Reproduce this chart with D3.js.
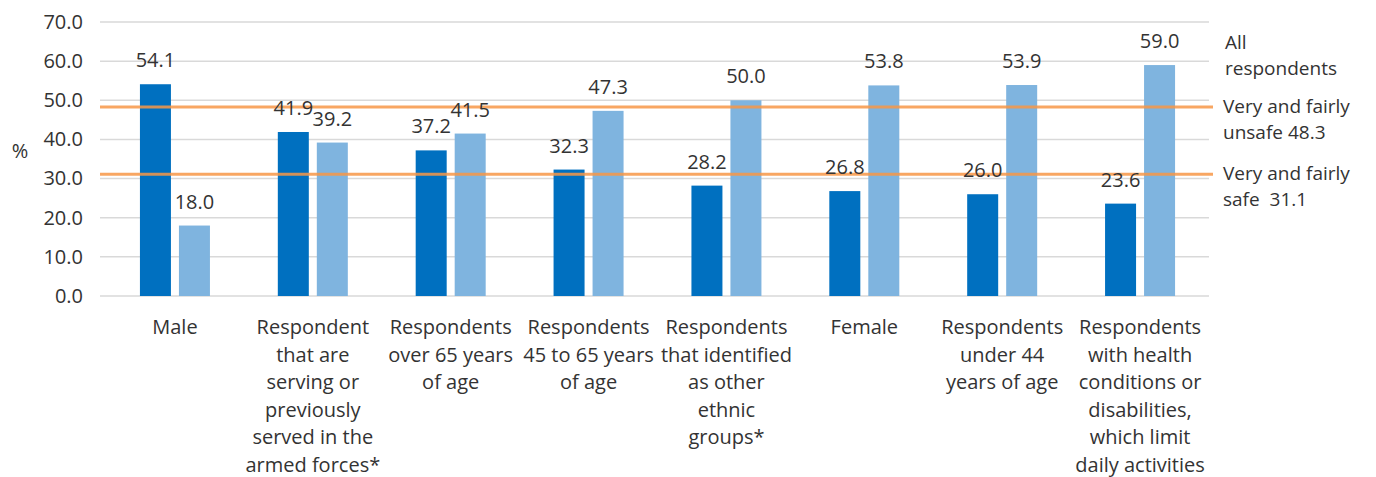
<!DOCTYPE html>
<html><head><meta charset="utf-8">
<script src="https://cdn.jsdelivr.net/npm/d3@7"></script>
<style>body{margin:0;background:#fff}svg text{font-family:"Open Sans",sans-serif;fill:#333}</style>
</head><body><svg id="c" width="1376" height="477"></svg>
<script>
const categories = [
  ["Male"],
  ["Respondent","that are","serving or","previously","served in the","armed forces*"],
  ["Respondents","over 65 years","of age"],
  ["Respondents","45 to 65 years","of age"],
  ["Respondents","that identified","as other","ethnic","groups*"],
  ["Female"],
  ["Respondents","under 44","years of age"],
  ["Respondents","with health","conditions or","disabilities,","which limit","daily activities"]
];
const safeValues = [54.1, 41.9, 37.2, 32.3, 28.2, 26.8, 26.0, 23.6];
const unsafeValues = [18.0, 39.2, 41.5, 47.3, 50.0, 53.8, 53.9, 59.0];
const yTicks = [0, 10, 20, 30, 40, 50, 60, 70];
const refLines = [
  {value: 48.3, label: ["Very and fairly", "unsafe 48.3"]},
  {value: 31.1, label: ["Very and fairly", "safe\u00a0\u00a031.1"]}
];
const refHeader = ["All", "respondents"];

const svg = d3.select("#c");
const fs = 20;
const fsR = 19;
const x = d3.scaleBand().domain(d3.range(categories.length)).range([106, 1209]).paddingInner(0);
const y = d3.scaleLinear().domain([0, 70]).range([296, 22]);

// gridlines
svg.append("g").selectAll("line").data(yTicks).join("line")
  .attr("x1", 100).attr("x2", 1209)
  .attr("y1", d => y(d)).attr("y2", d => y(d))
  .attr("stroke", "#d9d9d9").attr("stroke-width", 1.5);

// y axis labels
const yAxis = d3.axisLeft(y).tickValues(yTicks).tickFormat(d3.format(".1f")).tickSize(0).tickPadding(0);
const ga = svg.append("g").attr("transform", "translate(83,0)").call(yAxis);
ga.select(".domain").remove();
ga.selectAll("text").attr("font-size", fs).attr("font-family", "Open Sans").attr("fill", "#333");

svg.append("text").attr("x", 20).attr("y", 158).attr("text-anchor", "middle").attr("font-size", fs).text("%");

const bw = 31;
const c = i => x(i) + x.bandwidth() / 2;
// bars
svg.append("g").selectAll("rect").data(safeValues).join("rect")
  .attr("x", (d, i) => c(i) - 35).attr("width", bw)
  .attr("y", d => y(d)).attr("height", d => y(0) - y(d)).attr("fill", "#0070c0");
svg.append("g").selectAll("rect").data(unsafeValues).join("rect")
  .attr("x", (d, i) => c(i) + 4).attr("width", bw)
  .attr("y", d => y(d)).attr("height", d => y(0) - y(d)).attr("fill", "#7fb4df");

// reference lines
svg.append("g").selectAll("line").data(refLines).join("line")
  .attr("x1", 100).attr("x2", 1213)
  .attr("y1", d => y(d.value)).attr("y2", d => y(d.value))
  .attr("stroke", "#f79646").attr("stroke-opacity", 0.85).attr("stroke-width", 3);

// value labels
const lbl = d3.format(".1f");
svg.append("g").selectAll("text").data(safeValues).join("text")
  .attr("x", (d, i) => c(i) - 35 + bw / 2).attr("y", d => y(d) - 17)
  .attr("text-anchor", "middle").attr("font-size", fs).text(d => lbl(d));
svg.append("g").selectAll("text").data(unsafeValues).join("text")
  .attr("x", (d, i) => c(i) + 4 + bw / 2).attr("y", d => y(d) - 17)
  .attr("text-anchor", "middle").attr("font-size", fs).text(d => lbl(d));

// category labels
categories.forEach((lines, i) => {
  const t = svg.append("text").attr("text-anchor", "middle").attr("font-size", fs);
  lines.forEach((l, j) => t.append("tspan").attr("x", c(i)).attr("y", 334 + j * 27.5).text(l));
});

// right labels
const rh = svg.append("text").attr("font-size", fsR);
refHeader.forEach((l, j) => rh.append("tspan").attr("x", 1225).attr("y", 49 + j * 26).text(l));
refLines.forEach(r => {
  const t = svg.append("text").attr("font-size", fsR);
  r.label.forEach((l, j) => t.append("tspan").attr("x", 1223).attr("y", y(r.value) + 6 + j * 26).text(l));
});
</script></body></html>
